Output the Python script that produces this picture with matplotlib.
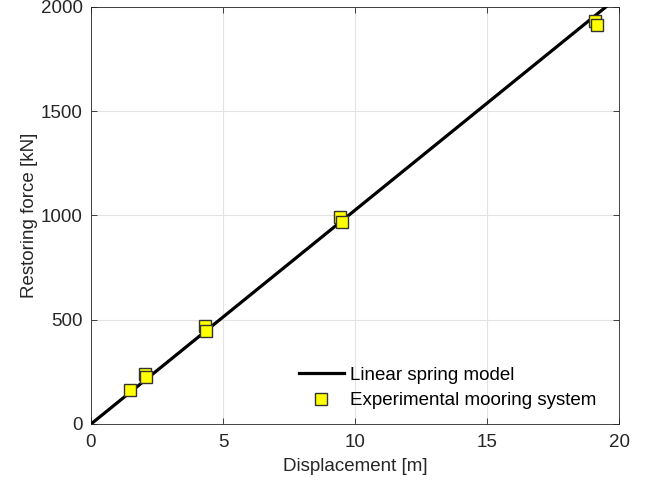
import numpy as np
import matplotlib.pyplot as plt

plt.rcParams['font.family'] = ['Liberation Sans', 'DejaVu Sans']

# spring model end points
model_x = [0, 19.5]
model_y = [0, 2000]

# experimental points
exp_x = [1.48, 2.05, 2.1, 4.32, 4.35, 9.45, 9.5, 19.08, 19.15]
exp_y = [163, 242, 224, 468, 447, 995, 970, 1935, 1912]

x_ticks = [0, 5, 10, 15, 20]
y_ticks = [0, 500, 1000, 1500, 2000]

fig = plt.figure(figsize=(6.54, 4.88), dpi=100)
ax = fig.add_axes([91 / 654, 64 / 488, 528 / 654, 417 / 488])

ax.plot(model_x, model_y, color='black', linewidth=2.3, label='Linear spring model', zorder=3)
ax.plot(exp_x, exp_y, linestyle='none', marker='s', markersize=9,
        markerfacecolor='yellow', markeredgecolor='#333333', markeredgewidth=1.0,
        label='Experimental mooring system', zorder=4)

ax.set_xlim(0, 20)
ax.set_ylim(0, 2000)
ax.set_xticks(x_ticks)
ax.set_yticks(y_ticks)
ax.grid(True, color='#e3e3e3', linewidth=0.8)
ax.set_axisbelow(True)

for s in ax.spines.values():
    s.set_color('#262626')
    s.set_linewidth(0.6)
ax.tick_params(direction='in', colors='#262626', labelsize=13.5, length=4, width=0.6,
               top=True, right=True)
ax.tick_params(axis='x', pad=7)
ax.tick_params(axis='y', pad=6)

ax.set_xlabel('Displacement [m]', fontsize=13.5, color='#262626', labelpad=5)
ax.set_ylabel('Restoring force [kN]', fontsize=13.5, color='#262626', labelpad=2)

leg = ax.legend(loc='lower right', frameon=False, fontsize=13.5, handlelength=2.4,
                handletextpad=0.35, borderaxespad=0.5, labelspacing=0.45,
                markerscale=0.9, bbox_to_anchor=(0.99, -0.005))

fig.savefig('out.png', dpi=100)
